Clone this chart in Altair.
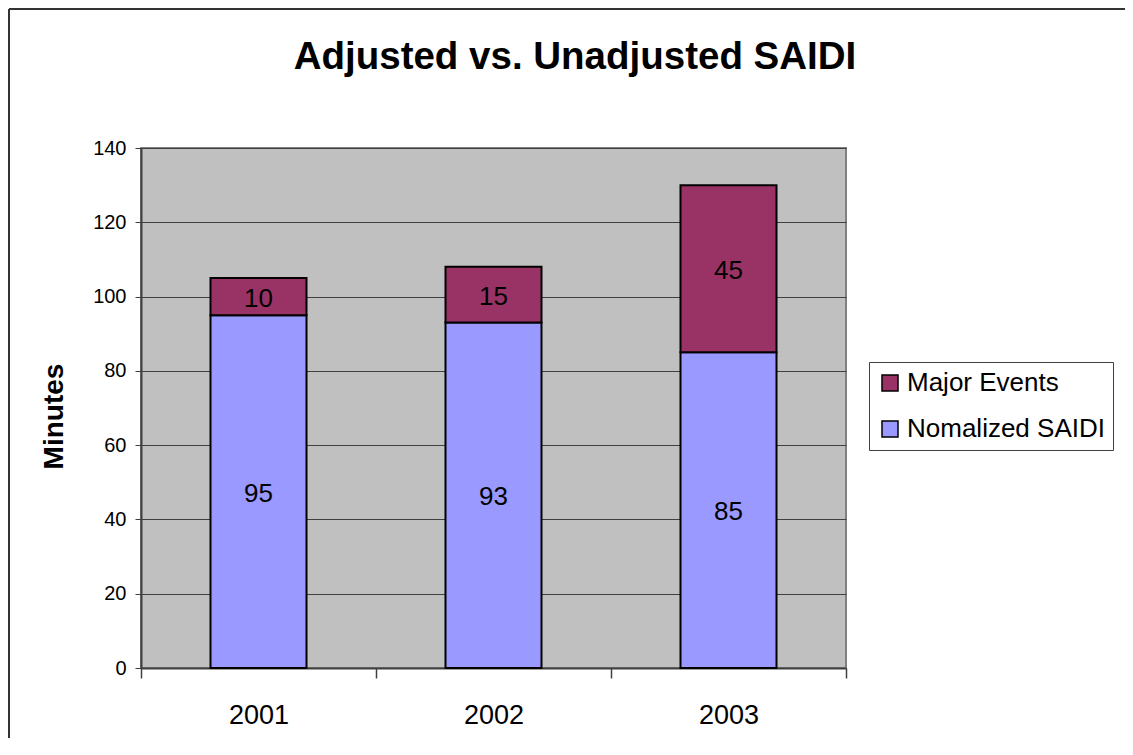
import altair as alt
import pandas as pd

years = ["2001", "2002", "2003"]
series_names = ["Major Events", "Nomalized SAIDI"]
normalized = [95, 93, 85]
major = [10, 15, 45]
y_ticks = [0, 20, 40, 60, 80, 100, 120, 140]
colors = ["#993366", "#9999FF"]
chart_title = "Adjusted vs. Unadjusted SAIDI"

rows = []
for i, yr in enumerate(years):
    rows.append({"year": yr, "series": "Nomalized SAIDI", "value": normalized[i], "ord": 0})
    rows.append({"year": yr, "series": "Major Events", "value": major[i], "ord": 1})
df = pd.DataFrame(rows)

FONT = "Liberation Sans"

base = alt.Chart(df).transform_stack(
    stack="value", groupby=["year"], as_=["y0", "y1"], sort=[{"field": "ord", "order": "ascending"}]
).transform_calculate(mid="(datum.y0 + datum.y1) / 2")

xenc = alt.X("year:N", title=None,
             scale=alt.Scale(paddingInner=0, paddingOuter=0),
             axis=alt.Axis(labelAngle=0, labelFontSize=27, labelFont=FONT, labelColor="black",
                           tickBand="extent", tickSize=10, tickColor="#404040", tickWidth=1.5,
                           domainColor="#404040", domainWidth=2, labelPadding=24))

bars = base.mark_bar(size=96, stroke="black", strokeWidth=2).encode(
    x=xenc,
    y=alt.Y("y0:Q", title="Minutes",
            scale=alt.Scale(domain=[0, 140], nice=False),
            axis=alt.Axis(values=y_ticks, labelFontSize=20, labelFont=FONT, labelColor="black",
                          tickSize=6, tickColor="#404040", domainColor="#404040", domainWidth=2,
                          gridColor="#404040", gridWidth=1, labelPadding=9,
                          titleFontSize=28, titleFont=FONT, titleFontWeight="bold", titleColor="black",
                          titleX=-87, titleY=268, titleAlign="center", titleBaseline="middle")),
    y2="y1:Q",
    color=alt.Color("series:N", title=None,
                    scale=alt.Scale(domain=series_names, range=colors),
                    legend=alt.Legend(orient="none", legendX=728, legendY=214,
                                      symbolType="square", symbolSize=256,
                                      symbolStrokeColor="black", symbolStrokeWidth=1.5,
                                      labelFontSize=26, labelFont=FONT, labelColor="black",
                                      labelLimit=400,
                                      strokeColor="#404040", padding=8, rowPadding=20,
                                      labelOffset=4, fillColor="white")),
)

labels = base.mark_text(fontSize=26, font=FONT, color="black", dy=2).encode(
    x=alt.X("year:N"),
    y=alt.Y("mid:Q"),
    text=alt.Text("value:Q"),
)

title_df = pd.DataFrame({"t": [chart_title]})
title = alt.Chart(title_df).mark_text(fontSize=38.5, font=FONT, fontWeight="bold", color="black",
                                      baseline="alphabetic", align="center").encode(
    x=alt.value(434), y=alt.value(-79), text="t:N")

frame_df = pd.DataFrame({"k": [0]})
top_border = alt.Chart(frame_df).mark_rule(color="#333333", strokeWidth=2).encode(
    x=alt.value(-132), x2=alt.value(1000), y=alt.value(-139))
left_border = alt.Chart(frame_df).mark_rule(color="#333333", strokeWidth=2).encode(
    x=alt.value(-132), y=alt.value(-139), y2=alt.value(620))

chart = alt.layer(bars, labels, title, top_border, left_border).properties(
    width=705, height=520,
    autosize=alt.AutoSizeParams(type="none"),
    padding={"left": 133, "top": 140, "right": 279, "bottom": 70},
    background="white",
).configure_view(fill="#C0C0C0", stroke="#808080", strokeWidth=2)

chart.save("out.html", embed_options={"renderer": "svg", "actions": False})
